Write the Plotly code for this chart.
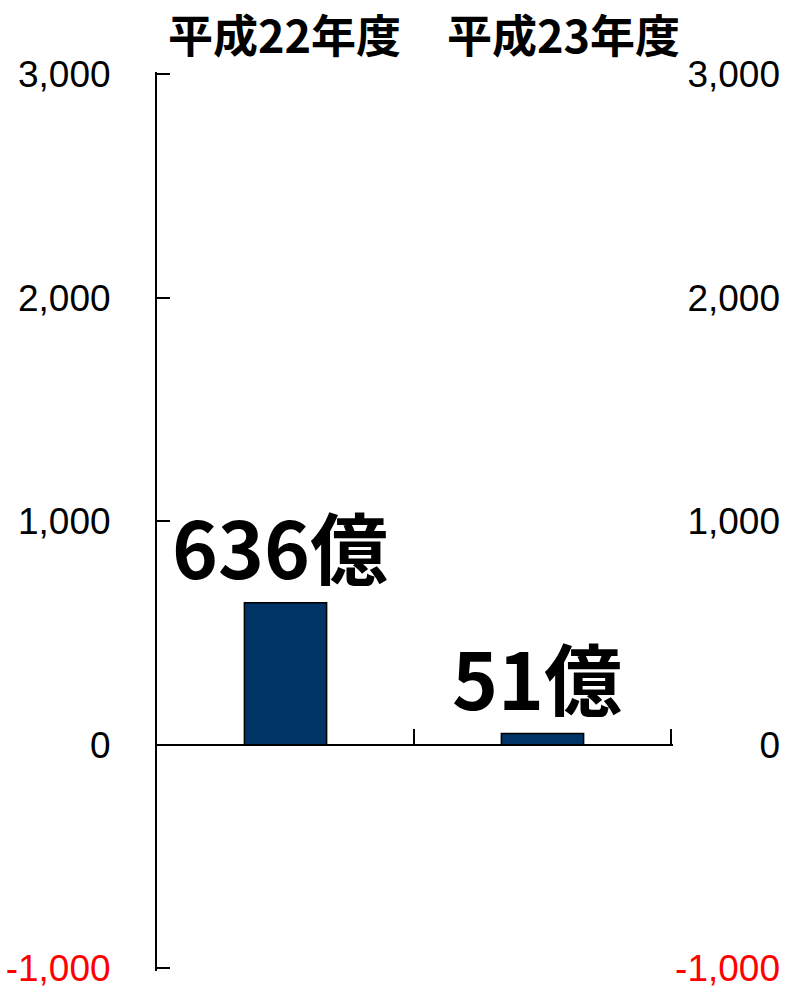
import plotly.graph_objects as go

# ---- data ----
categories = ["平成22年度", "平成23年度"]
values = [636, 51]
value_labels = ["636億", "51億"]
y_tickvals = [-1000, 0, 1000, 2000, 3000]
y_ticktext = ["-1,000", "0", "1,000", "2,000", "3,000"]

W, H = 787, 987
# pixel geometry (page coordinates)
px_per_cat = 257.0
x_left = 157.0                 # category boundary -0.5
px_per_unit = 223.5 / 1000     # y pixels per value unit
y_zero = 745.0

RED_TICK = "-1,000"
ticktext_col = [f'<span style="color:#ff0000">{t}</span>' if t == RED_TICK else t for t in y_ticktext]

# ranges padded slightly so that inside end ticks are not clipped by plotly
YR = [-1009, 3009]
XR = [-0.5, 1.508]

x_dom = [x_left / W, (x_left + (XR[1] - XR[0]) * px_per_cat) / W]
y_top_px = y_zero - YR[1] * px_per_unit
y_bot_px = y_zero - YR[0] * px_per_unit
y_dom = [(H - y_bot_px) / H, (H - y_top_px) / H]
zero_frac = (H - y_zero) / H

def fy(px):
    return (H - px) / H

fig = go.Figure()
fig.add_trace(go.Bar(
    x=categories, y=values,
    marker=dict(color="#003366", line=dict(color="#000000", width=1.5)),
    cliponaxis=False, width=0.32,
    xaxis="x", yaxis="y",
))
# invisible trace to carry the right-hand labels axis
fig.add_trace(go.Scatter(x=categories, y=values, yaxis="y2", mode="markers",
                         marker=dict(opacity=0), hoverinfo="skip", showlegend=False))

tick_font = dict(family="Liberation Sans, Arial", size=37, color="#000000")

fig.update_layout(
    template="none",
    width=W, height=H, autosize=False,
    margin=dict(l=0, r=0, t=0, b=0),
    paper_bgcolor="white", plot_bgcolor="white",
    showlegend=False,
    xaxis=dict(
        domain=x_dom, anchor="free", position=zero_frac,
        range=XR,
        showline=True, linecolor="#000000", linewidth=1.5,
        ticks="inside", ticklen=15, tickwidth=1.5, tickcolor="#000000",
        tickson="boundaries", showticklabels=False, showgrid=False,
        zeroline=False, automargin=False, fixedrange=True,
    ),
    yaxis=dict(
        domain=y_dom, range=YR,
        tickmode="array", tickvals=y_tickvals, ticktext=ticktext_col,
        showline=True, linecolor="#000000", linewidth=2,
        ticks="inside", ticklen=13, tickwidth=1.5, tickcolor="#000000",
        ticklabelstandoff=37, ticklabeloverflow="allow",
        tickfont=tick_font,
        showgrid=False, zeroline=False, automargin=False,
        anchor="x",
    ),
    yaxis2=dict(
        overlaying="y", anchor="free", position=780 / W, side="left",
        range=YR, ticklabeloverflow="allow",
        tickmode="array", tickvals=y_tickvals, ticktext=ticktext_col,
        showline=False, ticks="", showgrid=False, zeroline=False,
        tickfont=tick_font,
        automargin=False,
    ),
)

# value labels above the bars
for cat, v, lab in zip(categories, values, value_labels):
    fig.add_annotation(
        text=f"<b>{lab}</b>", x=cat, y=v, xref="x", yref="y",
        xanchor="center", yanchor="bottom", xshift=-6, yshift=0,
        showarrow=False,
        font=dict(family="Noto Sans CJK JP", size=78, color="#000000"),
    )

title_x = [284, 563]
for cat, tx in zip(categories, title_x):
    fig.add_annotation(
        text=f"<b>{cat}</b>", xref="paper", yref="paper",
        x=tx / W, y=fy(34), xanchor="center", yanchor="middle",
        showarrow=False,
        font=dict(family="Noto Sans CJK JP", size=45, color="#000000"),
    )

fig.write_html(
    "out.html",
    config={"displayModeBar": False},
    post_script="document.body.style.margin='0';document.body.style.overflow='hidden';",
)
